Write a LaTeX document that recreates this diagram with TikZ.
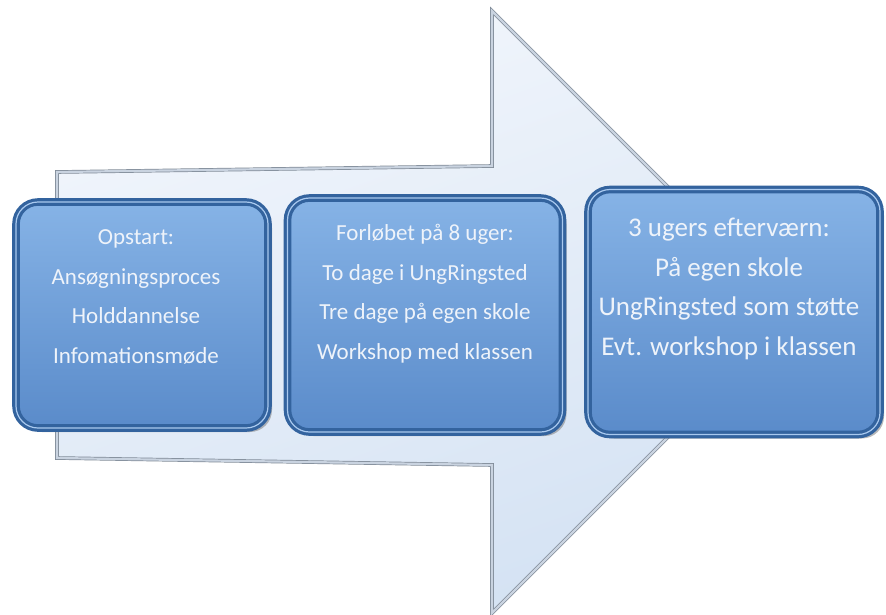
\documentclass[tikz,border=0pt]{standalone}
\usepackage{fontspec}
\setmainfont{Carlito}
\usepackage{tikz}
\usetikzlibrary{shapes,arrows,positioning,shadows}
\definecolor{arrowtop}{HTML}{F2F6FC}
\definecolor{arrowbottom}{HTML}{D4E2F3}
\definecolor{arrowrim}{HTML}{7F8A97}
\definecolor{arrowband}{HTML}{C9D3E0}
\definecolor{boxtop}{HTML}{86B3E6}
\definecolor{boxbottom}{HTML}{5A8BCA}
\definecolor{boxedge}{HTML}{33639E}
\definecolor{boxlight}{HTML}{A9C9EF}
\definecolor{stagefont}{HTML}{EEF3FA}

\begin{document}
\begin{tikzpicture}[x=1pt, y=-1pt,
		stagebox/.style={rectangle, rounded corners=22pt, draw=boxedge, line width=3.2pt,
			double=boxlight, double distance=1.2pt, top color=boxtop, bottom color=boxbottom,
			drop shadow={shadow xshift=4pt, shadow yshift=-4pt, opacity=0.55}},
		stagetext/.style={align=center, inner sep=0pt, text=stagefont,
			font=\fontsize{23}{39.5}\selectfont}]
				\useasboundingbox (0,0) rectangle (886,614);
				% the big arrow behind the stages
				\draw [arrowrim, line width=0.7pt, double=arrowband, double distance=2.2pt,
					top color=arrowtop, bottom color=arrowbottom, shading angle=20]
					(57,172) -- (492,166) -- (492,11) -- (793,312) -- (492,613) -- (492,465) -- (57,458) -- cycle;
				% stages
				\node[stagebox, minimum width=252pt, minimum height=226pt] (opstart) at (142,315) {};
				\node[stagebox, minimum width=275pt, minimum height=234pt] (forloeb) at (425,315) {};
				\node[stagebox, minimum width=292pt, minimum height=245pt] (eftervaern) at (734,312) {};
				\node[stagetext, below=29pt of opstart.north, xshift=-6pt] (opstarttxt)
					{Opstart:\\Ansøgningsproces\\Holddannelse\\Infomationsmøde};
				\node[stagetext, below=28pt of forloeb.north] (forloebtxt)
					{Forløbet på 8 uger:\\To dage i UngRingsted\\Tre dage på egen skole\\Workshop med klassen};
				\node[stagetext, font=\fontsize{27}{39.5}\selectfont, below=30pt of eftervaern.north, xshift=-5pt] (eftervaerntxt)
					{3 ugers efterværn:\\På egen skole\\UngRingsted som støtte\\Evt. workshop i klassen};
\end{tikzpicture}
\end{document}
